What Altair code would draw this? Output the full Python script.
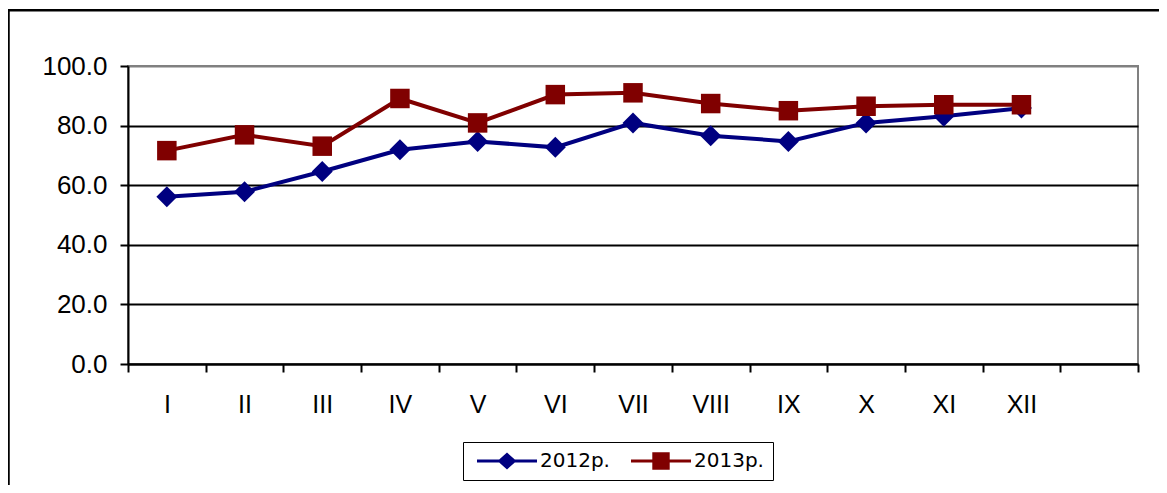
import altair as alt
import pandas as pd

months = ["I", "II", "III", "IV", "V", "VI", "VII", "VIII", "IX", "X", "XI", "XII"]
slots = months + [" "]
series_names = ["2012р.", "2013р."]
v2012 = [56.1, 57.8, 64.6, 71.9, 74.7, 72.7, 80.9, 76.6, 74.7, 80.9, 83.1, 85.9]
v2013 = [71.6, 76.9, 73.1, 89.1, 80.9, 90.4, 91.0, 87.4, 85.0, 86.5, 87.0, 87.0]
colors = ["#000080", "#800000"]
y_ticks = [0, 20, 40, 60, 80, 100]

rows = []
for m, a, b in zip(months, v2012, v2013):
    rows.append({"month": m, "value": a, "series": series_names[0]})
    rows.append({"month": m, "value": b, "series": series_names[1]})
df = pd.DataFrame(rows)

FONT = "Liberation Sans"
LEGEND_FONT = "DejaVu Sans"

x_enc = alt.X(
    "month:N",
    sort=slots,
    scale=alt.Scale(type="band", domain=slots, paddingInner=0, paddingOuter=0),
    bandPosition=0.5,
    axis=alt.Axis(
        title=None, labelAngle=0, labelFont=FONT, labelFontSize=25, labelColor="black",
        tickBand="extent", tickSize=8, tickWidth=2, tickColor="black",
        domainColor="black", domainWidth=2, labelPadding=20, grid=False,
    ),
)
y_enc = alt.Y(
    "value:Q",
    scale=alt.Scale(domain=[0, 100], nice=False),
    axis=alt.Axis(
        title=None, values=y_ticks, format=".1f", labelFont=FONT, labelFontSize=26,
        labelColor="black", tickSize=8, tickWidth=2, tickColor="black",
        domainColor="black", domainWidth=2, labelPadding=13,
        grid=True, gridWidth=2,
        gridColor={"condition": {"test": "datum.value === 100", "value": "#808080"}, "value": "black"},
    ),
)
color_scale = alt.Scale(domain=series_names, range=colors)

base = alt.Chart(df)

lines = base.mark_line(strokeWidth=4).encode(
    x=x_enc, y=y_enc, color=alt.Color("series:N", scale=color_scale, legend=None)
)
diamonds = base.transform_filter(alt.datum.series == series_names[0]).mark_point(
    shape="diamond", filled=True, size=440, opacity=1
).encode(x=x_enc, y=y_enc, color=alt.Color("series:N", scale=color_scale, legend=None))
squares = base.transform_filter(alt.datum.series == series_names[1]).mark_point(
    shape="square", filled=True, size=380, opacity=1
).encode(x=x_enc, y=y_enc, color=alt.Color("series:N", scale=color_scale, legend=None))

# legend glyphs: a line with a marker on it (unit = 10 px at symbolSize 400),
# drawn to the right of the symbol anchor
diamond_path = ("M-0.5,-0.15L1.72,-0.15L2.5,-0.85L3.28,-0.15L5.5,-0.15L5.5,0.15"
                "L3.28,0.15L2.5,0.85L1.72,0.15L-0.5,0.15Z")
square_path = ("M-0.5,-0.15L1.63,-0.15L1.63,-0.87L3.37,-0.87L3.37,-0.15L5.5,-0.15L5.5,0.15"
               "L3.37,0.15L3.37,0.87L1.63,0.87L1.63,0.15L-0.5,0.15Z")

legend_props = dict(
    title=None, orient="none", legendX=335, legendY=376, direction="horizontal",
    labelFont=LEGEND_FONT, labelFontSize=20, labelColor="black", symbolSize=400,
    symbolStrokeWidth=0, symbolOpacity=1, padding=9, strokeColor="black",
    columnPadding=16, labelOffset=48,
)

legend_layer = base.mark_point(filled=True, opacity=0).encode(
    x=x_enc, y=y_enc,
    color=alt.Color("series:N", scale=color_scale, legend=alt.Legend(**legend_props)),
    shape=alt.Shape("series:N", scale=alt.Scale(domain=series_names, range=[diamond_path, square_path]),
                    legend=alt.Legend(**legend_props)),
)

frame_df = pd.DataFrame({"k": [0]})
left_border = alt.Chart(frame_df).mark_rule(color="black", strokeWidth=2.5).encode(
    x=alt.value(-119.5), y=alt.value(-56), y2=alt.value(440)
)
top_border = alt.Chart(frame_df).mark_rule(color="black", strokeWidth=2.5).encode(
    x=alt.value(-121), x2=alt.value(1040), y=alt.value(-55.7)
)

chart = alt.layer(lines, diamonds, squares, legend_layer, left_border, top_border).resolve_scale(
    color="independent", shape="independent"
).properties(
    width=1010, height=298,
    autosize=alt.AutoSizeParams(type="none"),
    padding={"left": 120, "top": 58, "right": 21, "bottom": 121},
    background="white",
).configure_view(stroke="#808080", strokeWidth=2)

chart.save("out.html", embed_options={"renderer": "svg", "actions": False})
